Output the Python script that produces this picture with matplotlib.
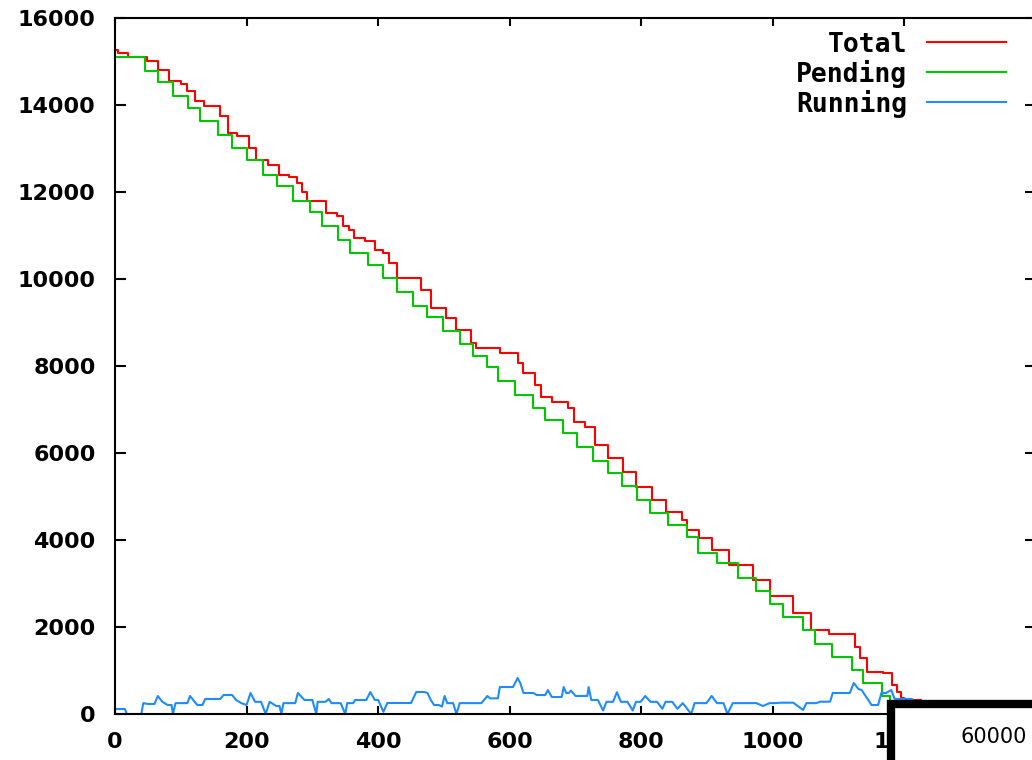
import matplotlib
matplotlib.use("Agg")
import matplotlib.pyplot as plt
from matplotlib.patches import Rectangle
from matplotlib.lines import Line2D

# Total: (x where step starts, value)
total_x = [0, 5, 20, 48, 66, 82, 100, 110, 122, 135, 160, 172, 185, 203, 215, 232,
           250, 265, 277, 285, 292, 320, 338, 346, 355, 364, 380, 395, 408, 416, 428,
           465, 481, 503, 518, 541, 548, 585, 612, 620, 639, 648, 664, 688, 697, 715,
           729, 750, 772, 792, 816, 838, 862, 870, 887, 908, 933, 970, 995, 1030, 1058,
           1085, 1125, 1133, 1143, 1168, 1181, 1189, 1195, 1200, 1225]
total_y = [15270, 15200, 15100, 15000, 14812, 14543, 14475, 14320, 14083, 13968, 13738,
           13363, 13278, 13018, 12742, 12627, 12397, 12350, 12205, 12000, 11783, 11515,
           11440, 11208, 11130, 10940, 10867, 10672, 10600, 10373, 10028, 9752, 9338,
           9108, 8832, 8533, 8418, 8303, 8073, 7843, 7567, 7291, 7176, 7038, 6716, 6601,
           6187, 5888, 5566, 5221, 4922, 4646, 4462, 4232, 4048, 3772, 3427, 3082, 2714,
           2323, 1932, 1840, 1541, 1288, 966, 943, 667, 506, 368, 322, 322]

pending_x = [0, 46, 65, 88, 111, 129, 157, 178, 200, 225, 246, 271, 296, 315, 339, 357,
             384, 408, 428, 453, 474, 499, 524, 544, 565, 582, 608, 635, 653, 681, 702,
             727, 749, 770, 793, 813, 841, 869, 886, 915, 947, 975, 995, 1015, 1046, 1064,
             1090, 1120, 1137, 1166, 1178, 1200]
pending_y = [15100, 14775, 14520, 14200, 13930, 13623, 13317, 13010, 12727, 12397, 12130,
             11800, 11530, 11208, 10902, 10596, 10327, 10028, 9690, 9384, 9131, 8809, 8510,
             8234, 7981, 7659, 7337, 7038, 6762, 6463, 6141, 5819, 5550, 5244, 4922, 4623,
             4347, 4071, 3703, 3473, 3128, 2829, 2530, 2231, 1932, 1610, 1311, 1012, 713,
             414, 280, 280]

running_x = [0, 15, 18, 40, 43, 50, 60, 65, 72, 80, 86, 88, 92, 110, 114, 125, 133, 137,
             160, 165, 178, 184, 192, 200, 206, 213, 222, 229, 235, 245, 250, 253, 256,
             274, 278, 288, 300, 306, 308, 320, 325, 329, 343, 350, 353, 362, 365, 382,
             388, 395, 400, 408, 414, 450, 458, 470, 475, 480, 485, 492, 497, 501, 505,
             514, 519, 524, 557, 566, 570, 582, 585, 605, 612, 616, 621, 636, 641, 654,
             658, 664, 679, 682, 686, 690, 693, 700, 718, 720, 724, 734, 742, 747, 757,
             763, 769, 779, 787, 792, 799, 806, 814, 824, 832, 837, 847, 855, 863, 876,
             881, 899, 907, 915, 925, 931, 939, 967, 975, 985, 995, 1003, 1013, 1031,
             1046, 1051, 1066, 1072, 1087, 1091, 1117, 1123, 1130, 1135, 1140, 1150, 1160,
             1165, 1172, 1180, 1185, 1190, 1211]
running_y = [115, 115, 0, 0, 250, 230, 230, 414, 280, 207, 207, 0, 250, 250, 414, 207,
             207, 345, 345, 437, 437, 322, 250, 207, 483, 280, 280, 0, 280, 184, 184, 0,
             250, 250, 483, 322, 322, 0, 280, 280, 345, 250, 250, 0, 250, 250, 322, 322,
             506, 322, 322, 50, 253, 253, 506, 506, 483, 322, 207, 207, 170, 414, 250,
             250, 0, 250, 250, 414, 360, 360, 620, 620, 828, 713, 483, 483, 437, 437, 550,
             390, 390, 620, 483, 483, 540, 415, 415, 620, 322, 322, 80, 280, 280, 500,
             280, 280, 80, 280, 280, 414, 280, 280, 120, 280, 280, 120, 250, 0, 250, 250,
             415, 250, 250, 0, 250, 250, 250, 184, 250, 250, 260, 260, 92, 250, 250, 283,
             283, 483, 483, 713, 575, 550, 437, 207, 207, 483, 483, 550, 350, 345, 345]

labels = ["Total", "Pending", "Running"]
colors = ["#ff0000", "#00c800", "#1e8cff"]

xticks = list(range(0, 1401, 200))
xticklabels = ["0", "200", "400", "600", "800", "1000", "1200", ""]

W, H = 1032, 760
fig = plt.figure(figsize=(W / 100, H / 100), dpi=100)
ax = fig.add_axes([115 / W, 1 - 714 / H, (1036 - 115) / W, (714 - 18) / H])

ax.plot(total_x, total_y, color=colors[0], lw=1.5, drawstyle="steps-post")
ax.plot(pending_x, pending_y, color=colors[1], lw=1.5, drawstyle="steps-post")
ax.plot(running_x, running_y, color=colors[2], lw=1.5)

ax.set_xlim(0, 1400)
ax.set_ylim(0, 16000)
ax.set_xticks(xticks)
ax.set_xticklabels(xticklabels)
ax.set_yticks(range(0, 16001, 2000))
ax.tick_params(axis="both", direction="in", top=True, right=True, width=1.5,
               labelsize=16, colors="black")
ax.tick_params(axis="y", length=8, pad=14)
ax.tick_params(axis="x", length=6, pad=13)
for lab in ax.get_xticklabels() + ax.get_yticklabels():
    lab.set_fontweight("bold")
for s in ax.spines.values():
    s.set_linewidth(1.5)

# legend drawn by hand, gnuplot style
rows = [52, 82, 112]
for lab, c, yb in zip(labels, colors, rows):
    fig.text(907 / W, 1 - yb / H, lab, ha="right", va="baseline",
             family="DejaVu Sans Mono", fontweight="bold", fontsize=19)
    fig.add_artist(Line2D([927 / W, 1006 / W], [1 - (yb - 10.5) / H] * 2,
                          color=c, lw=1.5, transform=fig.transFigure))

# overlay box at bottom right
fig.add_artist(Rectangle((891 / W, -0.1), 0.2, 1 - 704 / H + 0.1,
                         transform=fig.transFigure, facecolor="white",
                         edgecolor="black", lw=6, zorder=10))
fig.text(994 / W, 1 - 737 / H, "60000", ha="center", va="center",
         fontsize=15, zorder=11)

fig.savefig("out.png", dpi=100)
